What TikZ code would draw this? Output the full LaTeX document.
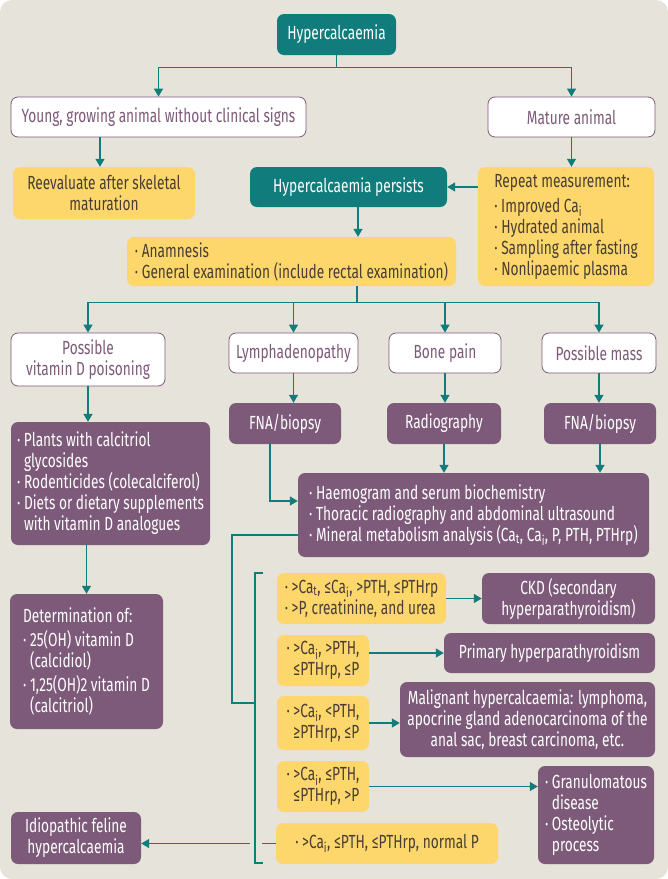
\documentclass[tikz,border=0pt]{standalone}
\usepackage{fontspec}
\setmainfont{Fira Sans}[FakeStretch=0.72]
\usetikzlibrary{arrows.meta}
\definecolor{bg}{RGB}{230,228,218}
\definecolor{tealc}{RGB}{16,124,124}
\definecolor{purp}{RGB}{125,90,122}
\definecolor{yel}{RGB}{253,215,108}
\definecolor{darktx}{RGB}{72,62,52}
\newcommand\ind{\hphantom{·\ }}
\newcommand\sbs[1]{\textsubscript{#1}}
\tikzset{
  base/.style={rounded corners=7pt, inner sep=0pt, align=center, font=\fontsize{19}{21}\selectfont},
  tbox/.style={base, fill=tealc, text=white},
  wbox/.style={base, fill=white, draw=purp, line width=0.8pt, text=purp},
  ybox/.style={base, fill=yel, text=darktx},
  pbox/.style={base, fill=purp, text=white},
  conn/.style={draw=tealc, line width=1.3pt},
  arr/.style={conn, -{Triangle[length=8pt,width=9pt]}},
}
\begin{document}
\begin{tikzpicture}[x=1pt,y=-1pt]
\useasboundingbox (0,0) rectangle (668,879);
\fill[bg, rounded corners=12pt] (0,0) rectangle (668,879);

\node[tbox, minimum width=119pt, minimum height=41pt] (hyper) at (336.5,34.5) {Hypercalcaemia};
\node[wbox, minimum width=295pt, minimum height=40pt] (young) at (158.5,117) {Young, growing animal without clinical signs};
\node[wbox, minimum width=167pt, minimum height=40pt] (mature) at (571.5,117) {Mature animal};
\node[ybox, minimum width=182pt, minimum height=52pt] (reeval) at (104,193) {Reevaluate after skeletal\\maturation};
\node[tbox, minimum width=197pt, minimum height=40pt] (persist) at (348.5,187) {Hypercalcaemia persists};
\node[ybox, minimum width=176pt, minimum height=119pt, align=left] (repeat) at (566,226.5) {Repeat measurement:\\[4pt]· Improved Ca\sbs{i}\\· Hydrated animal\\· Sampling after fasting\\· Nonlipaemic plasma};
\node[ybox, minimum width=329pt, minimum height=49pt, align=left] (anam) at (291.5,261.5) {· Anamnesis\\· General examination (include rectal examination)};

\node[wbox, minimum width=154pt, minimum height=53pt] (possd) at (88,359.5) {Possible\\vitamin D poisoning};
\node[wbox, minimum width=129pt, minimum height=40pt] (lymph) at (293.5,353) {Lymphadenopathy};
\node[wbox, minimum width=112pt, minimum height=40pt] (bone) at (445,353) {Bone pain};
\node[wbox, minimum width=114pt, minimum height=40pt] (mass) at (599,353) {Possible mass};

\node[pbox, minimum width=112pt, minimum height=41pt] (fna1) at (285,423.5) {FNA/biopsy};
\node[pbox, minimum width=114pt, minimum height=41pt] (radio) at (444,423.5) {Radiography};
\node[pbox, minimum width=112pt, minimum height=41pt] (fna2) at (600,423.5) {FNA/biopsy};

\node[pbox, minimum width=199pt, minimum height=123pt, align=left] (plants) at (110.5,483.5) {· Plants with calcitriol\\\ind glycosides\\· Rodenticides (colecalciferol)\\· Diets or dietary supplements\\\ind with vitamin D analogues};
\node[pbox, minimum width=351pt, minimum height=84pt, align=left] (haem) at (473.5,515) {· Haemogram and serum biochemistry\\· Thoracic radiography and abdominal ultrasound\\· Mineral metabolism analysis (Ca\sbs{t}, Ca\sbs{i}, P, PTH, PTHrp)};
\node[pbox, minimum width=153pt, minimum height=135pt, align=left] (determ) at (86.5,661.5) {Determination of:\\[3pt]· 25(OH) vitamin D\\\ind (calcidiol)\\[3pt]· 1,25(OH)2 vitamin D\\\ind (calcitriol)};

\node[ybox, minimum width=169pt, minimum height=51pt, align=left] (y1) at (361.5,598.5) {· >Ca\sbs{t}, ≤Ca\sbs{i}, >PTH, ≤PTHrp\\· >P, creatinine, and urea};
\node[pbox, minimum width=173pt, minimum height=51pt] (ckd) at (568.5,598.5) {CKD (secondary\\hyperparathyroidism)};
\node[ybox, minimum width=92pt, minimum height=51pt, align=left] (y2) at (323,660.5) {· >Ca\sbs{i}, >PTH,\\\ind ≤PTHrp, ≤P};
\node[pbox, minimum width=211pt, minimum height=40pt] (prim) at (549.5,653) {Primary hyperparathyroidism};
\node[ybox, minimum width=92pt, minimum height=54pt, align=left] (y3) at (323,723) {· >Ca\sbs{i}, <PTH,\\\ind ≥PTHrp, ≤P};
\node[pbox, minimum width=255pt, minimum height=75pt] (malig) at (527.5,719.5) {Malignant hypercalcaemia: lymphoma,\\apocrine gland adenocarcinoma of the\\anal sac, breast carcinoma, etc.};
\node[ybox, minimum width=92pt, minimum height=51pt, align=left] (y4) at (323,786.5) {· >Ca\sbs{i}, ≤PTH,\\\ind ≤PTHrp, >P};
\node[pbox, minimum width=116pt, minimum height=98pt, align=left] (gran) at (596,815) {· Granulomatous\\\ind disease\\· Osteolytic\\\ind process};
\node[ybox, minimum width=222pt, minimum height=41pt, align=left] (y5) at (387,843.5) {· >Ca\sbs{i}, ≤PTH, ≤PTHrp, normal P};
\node[pbox, minimum width=130pt, minimum height=52pt] (idio) at (76,838) {Idiopathic feline\\hypercalcaemia};

% connectors
\draw[arr] (hyper.south) -- ++(0,12) -| (young.north);
\draw[arr] (hyper.south) -- ++(0,12) -| (mature.north);
\draw[arr] ([xshift=-4pt]reeval.north |- young.south) -- ([xshift=-4pt]reeval.north);
\draw[arr] (mature.south) -- (mature.south |- repeat.north);
\draw[arr] (repeat.west |- persist.east) -- (persist.east);
\draw[arr] ([xshift=9.5pt]persist.south) -- ([xshift=9.5pt]persist.south |- anam.north);
\coordinate (j1) at ([xshift=65.5pt]anam.south);
\draw[arr] (j1) -- ++(0,16) -| (possd.north);
\draw[arr] (j1) -- ++(0,16) -| (lymph.north);
\draw[arr] (j1) -- ++(0,16) -| (bone.north);
\draw[arr] (j1) -- ++(0,16) -| (mass.north);
\draw[arr] (lymph.south) -- (lymph.south |- fna1.north);
\draw[arr] (bone.south) -- (bone.south |- radio.north);
\draw[arr] (mass.south) -- (mass.south |- fna2.north);
\draw[arr] (possd.south) -- (possd.south |- plants.north);
\draw[arr] ([xshift=-15pt]fna1.south) |- ([yshift=14pt]haem.west);
\draw[arr] (radio.south) -- (radio.south |- haem.north);
\draw[arr] (fna2.south) -- (fna2.south |- haem.north);
\draw[arr] (plants.south -| determ.north) -- (determ.north);
\coordinate (brk) at (255,703);
\coordinate (brtop) at (263,573);
\coordinate (brbot) at (263,863);
\draw[conn] ([yshift=-20pt]haem.west) -| (232,703) -- (brk);
\draw[conn] (brtop) -- (brtop -| brk) -- (brbot -| brk) -- (brbot);
\draw[arr] (y1.east) -- (ckd.west);
\draw[arr] (y2.east |- prim.west) -- (prim.west);
\draw[arr] (y3.east) -- (y3.east -| malig.west);
\draw[arr] (y4.east) -- (y4.east -| gran.west);
\draw[arr] (y5.west) -- ++(-14,0) ++(-12,0) -- (y5.west -| idio.east);
\end{tikzpicture}
\end{document}
